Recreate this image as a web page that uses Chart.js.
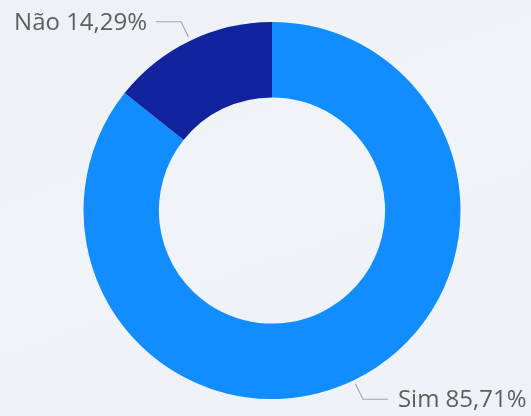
<!DOCTYPE html>
<html>
<head>
<meta charset="utf-8">
<script src="https://cdn.jsdelivr.net/npm/chart.js@4"></script>
<style>
  html, body {
    margin: 0;
    padding: 0;
    width: 531px;
    height: 416px;
    overflow: hidden;
    background: linear-gradient(160deg, #edf1f6 0%, #f0f4f9 45%, #edf1f8 100%);
  }
  #wrap { position: relative; width: 531px; height: 416px; }
</style>
</head>
<body>
<div id="wrap"><canvas id="myChart" width="531" height="416"></canvas></div>
<script>
// data
const categories = ["Sim", "Não"];
const values = [85.71, 14.29];
const sliceColors = ["#118DFF", "#12239E"];

// format a value the pt-BR way, 85.71 -> 85,71%
const fmtPct = (v) => v.toFixed(2).replace(".", ",") + "%";

// draws the outside labels with the little leader lines
const outsideLabels = {
  id: "outsideLabels",
  afterDatasetsDraw(chart) {
    const ctx = chart.ctx;
    const meta = chart.getDatasetMeta(0);
    ctx.save();
    ctx.font = "24px 'Open Sans', 'Noto Sans', sans-serif";
    ctx.textBaseline = "middle";
    meta.data.forEach((arc, i) => {
      const p = arc.getProps(["x", "y", "startAngle", "endAngle", "outerRadius"], true);
      const mid = (p.startAngle + p.endAngle) / 2;
      const cos = Math.cos(mid);
      const sin = Math.sin(mid);
      const x0 = p.x + cos * (p.outerRadius + 4);
      const y0 = p.y + sin * (p.outerRadius + 4);
      const x1 = p.x + cos * (p.outerRadius + 21);
      const y1 = p.y + sin * (p.outerRadius + 21);
      const right = cos >= 0;
      const x2 = x1 + (right ? 25 : -25);

      ctx.strokeStyle = "#a6a6a6";
      ctx.lineWidth = 1.2;
      ctx.beginPath();
      ctx.moveTo(x0, y0);
      ctx.lineTo(x1, y1);
      ctx.lineTo(x2, y1);
      ctx.stroke();

      ctx.fillStyle = "#605E5C";
      ctx.textAlign = right ? "left" : "right";
      ctx.fillText(categories[i] + " " + fmtPct(values[i]), x2 + (right ? 10 : -9), y1 + 1);
    });
    ctx.restore();
  },
};

new Chart(document.getElementById("myChart"), {
  type: "doughnut",
  data: {
    labels: categories,
    datasets: [
      {
        data: values,
        backgroundColor: sliceColors,
        borderWidth: 0,
      },
    ],
  },
  options: {
    responsive: false,
    animation: false,
    cutout: "60%",
    layout: {
      padding: { left: 83.5, top: 22, right: 70.5, bottom: 17 },
    },
    plugins: {
      legend: { display: false },
      tooltip: { enabled: false },
    },
  },
  plugins: [outsideLabels],
});
</script>
</body>
</html>
